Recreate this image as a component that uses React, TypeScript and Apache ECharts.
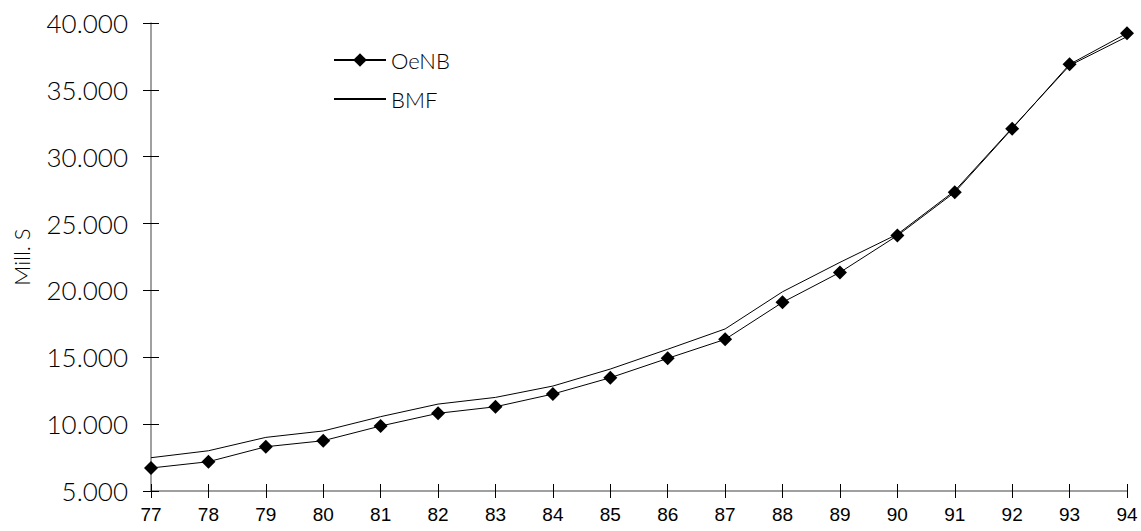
import React, { useEffect, useRef } from "react";
import * as echarts from "echarts";

const years = ["77", "78", "79", "80", "81", "82", "83", "84", "85", "86", "87", "88", "89", "90", "91", "92", "93", "94"];
const oenb = [6720, 7190, 8310, 8760, 9860, 10810, 11300, 12250, 13470, 14920, 16340, 19110, 21350, 24100, 27340, 32100, 36910, 39230];
const bmf = [7490, 8010, 9010, 9490, 10560, 11500, 12000, 12850, 14120, 15600, 17120, 19900, 22100, 24200, 27450, 32150, 36820, 38980];
const yMin = 5000;
const yMax = 40000;
const yStep = 5000;

const yFont = "Lato, 'Open Sans', sans-serif";
const xFont = "'Liberation Sans', Arial, sans-serif";

const fmt = (v: number) => v.toLocaleString("de-DE");

export default function App() {
  const ref = useRef<HTMLDivElement>(null);
  useEffect(() => {
    if (!ref.current) return;
    const chart = echarts.init(ref.current, null, { renderer: "svg" });
    const grid = { left: 151, right: 14, top: 23, bottom: 40 };
    chart.setOption({
      animation: false,
      backgroundColor: "#ffffff",
      grid,
      legend: {
        orient: "vertical",
        left: 328,
        top: 44,
        itemWidth: 52,
        itemHeight: 17,
        itemGap: 17,
        textStyle: { fontFamily: yFont, fontSize: 22, fontWeight: 300, color: "#000" },
        data: [
          { name: "OeNB" },
          { name: "BMF", itemStyle: { opacity: 0 } },
        ],
      },
      xAxis: [
        {
          type: "category",
          data: years,
          boundaryGap: false,
          axisLine: { lineStyle: { color: "#808080", width: 1.5 } },
          axisTick: { show: true, length: 7, lineStyle: { color: "#000" }, alignWithLabel: true },
          axisLabel: { fontFamily: xFont, fontSize: 19, color: "#000", margin: 14 },
          splitLine: { show: false },
        },
        {
          type: "category",
          data: years,
          boundaryGap: false,
          position: "bottom",
          axisLine: { show: false },
          axisTick: { show: true, inside: true, length: 7, lineStyle: { color: "#000" } },
          axisLabel: { show: false },
          splitLine: { show: false },
        },
      ],
      yAxis: [
        {
          type: "value",
          min: yMin,
          max: yMax,
          interval: yStep,
          name: "Mill. S",
          nameLocation: "middle",
          nameGap: 119,
          nameTextStyle: { fontFamily: yFont, fontSize: 22, fontWeight: 300, color: "#000" },
          axisLine: { show: true, lineStyle: { color: "#808080", width: 1.5 } },
          axisTick: { show: true, length: 8, lineStyle: { color: "#000" } },
          axisLabel: { fontFamily: yFont, fontSize: 26, fontWeight: 300, color: "#000", margin: 23, formatter: fmt },
          splitLine: { show: false },
        },
        {
          type: "value",
          min: yMin,
          max: yMax,
          interval: yStep,
          position: "left",
          axisLine: { show: false },
          axisTick: { show: true, inside: true, length: 8, lineStyle: { color: "#000" } },
          axisLabel: { show: false },
          splitLine: { show: false },
        },
      ],
      series: [
        {
          name: "BMF",
          type: "line",
          data: bmf,
          symbol: "none",
          lineStyle: { color: "#000", width: 1 },
          itemStyle: { color: "#000" },
        },
        {
          name: "OeNB",
          type: "line",
          data: oenb,
          symbol: "diamond",
          symbolSize: 14,
          showAllSymbol: true,
          lineStyle: { color: "#000", width: 1 },
          itemStyle: { color: "#000" },
        },
      ],
    });
    return () => chart.dispose();
  }, []);
  return (
    <div
      ref={ref}
      style={{ position: "absolute", left: 0, top: 0, width: 1141, height: 531 }}
    />
  );
}
